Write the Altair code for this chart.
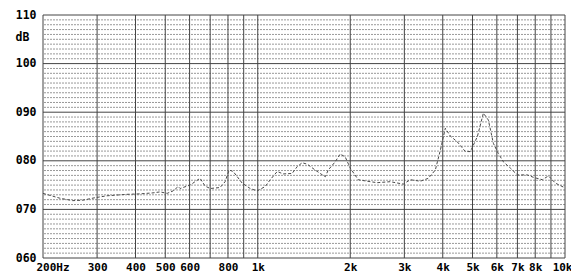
import altair as alt
import pandas as pd

# Measured response (frequency in Hz, level in dB)
freq = [200, 227, 250, 270, 295, 323, 375, 414, 456, 481, 507, 530, 551, 559, 602, 649,
        674, 700, 754, 783, 807, 832, 890, 945, 995, 1057, 1098, 1157, 1210, 1294, 1344,
        1395, 1449, 1538, 1658, 1696, 1787, 1855, 1926, 2000, 2124, 2324, 2449, 2700,
        2976, 3136, 3381, 3590, 3784, 3930, 4078, 4234, 4462, 4738, 4920, 5186, 5424,
        5630, 5846, 6068, 6300, 6640, 6998, 7545, 7890, 8444, 8831, 9308, 9880]
level = [73.3, 72.3, 71.8, 71.9, 72.4, 72.8, 73.1, 73.2, 73.4, 73.6, 73.3, 73.8, 74.7, 74.3,
         75.0, 76.4, 74.8, 74.3, 74.5, 75.7, 78.1, 77.8, 75.4, 74.3, 73.8, 74.7, 76.1, 77.8,
         77.3, 77.4, 78.8, 79.6, 79.3, 78.1, 76.7, 78.1, 79.8, 81.4, 80.8, 78.5, 76.1, 75.7,
         75.5, 75.7, 75.2, 76.1, 75.8, 76.4, 78.1, 82.2, 86.7, 85.1, 83.9, 81.9, 81.9, 85.0,
         89.8, 88.4, 83.6, 81.5, 79.8, 78.5, 77.1, 77.1, 76.6, 76.1, 76.9, 75.4, 74.6]

grid_freqs = [200, 300, 400, 500, 600, 700, 800, 900, 1000, 2000, 3000, 4000, 5000,
              6000, 7000, 8000, 9000, 10000]
major_db = [60, 70, 80, 90, 100, 110]
minor_db = [d for d in range(61, 110) if d % 10 != 0]
x_tick_values = [200, 300, 400, 500, 600, 800, 1000, 2000, 3000, 4000, 5000, 6000, 7000, 8000, 10000]
x_tick_labels = ["200Hz", "300", "400", "500", "600", "800", "1k", "2k", "3k", "4k", "5k",
                 "6k", "7k", "8k", "10k"]

label_expr = " : ".join(
    [f"datum.value == {v} ? '{t}'" for v, t in zip(x_tick_values, x_tick_labels)]
) + " : ''"

FONT = "DejaVu Sans Mono"
xscale = alt.Scale(type="log", domain=[200, 10000], nice=False)
yscale = alt.Scale(domain=[60, 110], nice=False, zero=False)

x_axis = alt.Axis(values=x_tick_values, labelExpr=label_expr, ticks=False,
                  domain=False, grid=False, labelOverlap=False,
                  labelFlush=True, labelFlushOffset=7, labelPadding=3,
                  labelFont=FONT, labelFontWeight="bold", labelFontSize=11,
                  labelColor="#000000", title=None)
y_axis = alt.Axis(values=major_db, format="03d", ticks=False, domain=False,
                  grid=False, labelPadding=7, labelFont=FONT,
                  labelFontWeight="bold", labelFontSize=11.5, labelColor="#000000",
                  labelBaseline="middle",
                  title="dB", titleAngle=0, titleX=-28, titleY=22,
                  titleAlign="left", titleBaseline="middle", titleFont=FONT,
                  titleFontWeight="bold", titleFontSize=11.5, titleColor="#000000")

curve_df = pd.DataFrame({"f": freq, "db": level})

minor = alt.Chart(pd.DataFrame({"db": minor_db})).mark_rule(
    color="#999999", strokeWidth=1, strokeDash=[2, 1]
).encode(y=alt.Y("db:Q", scale=yscale, axis=y_axis))

major = alt.Chart(pd.DataFrame({"db": major_db})).mark_rule(
    color="#444444", strokeWidth=1
).encode(y=alt.Y("db:Q", scale=yscale, axis=y_axis))

vert = alt.Chart(pd.DataFrame({"f": grid_freqs})).mark_rule(
    color="#444444", strokeWidth=1
).encode(x=alt.X("f:Q", scale=xscale, axis=x_axis))

curve = alt.Chart(curve_df).mark_line(
    color="#4a4a4a", strokeWidth=1, strokeDash=[3, 2]
).encode(
    x=alt.X("f:Q", scale=xscale, axis=x_axis),
    y=alt.Y("db:Q", scale=yscale, axis=y_axis),
)

chart = alt.layer(minor, major, vert, curve).properties(
    width=522, height=243,
    autosize=alt.AutoSizeParams(type="none"),
    padding={"left": 35, "top": 7, "right": 6, "bottom": 17},
    background="white",
).configure_view(stroke=None)

chart.save("out.html", embed_options={"renderer": "svg", "actions": False})
